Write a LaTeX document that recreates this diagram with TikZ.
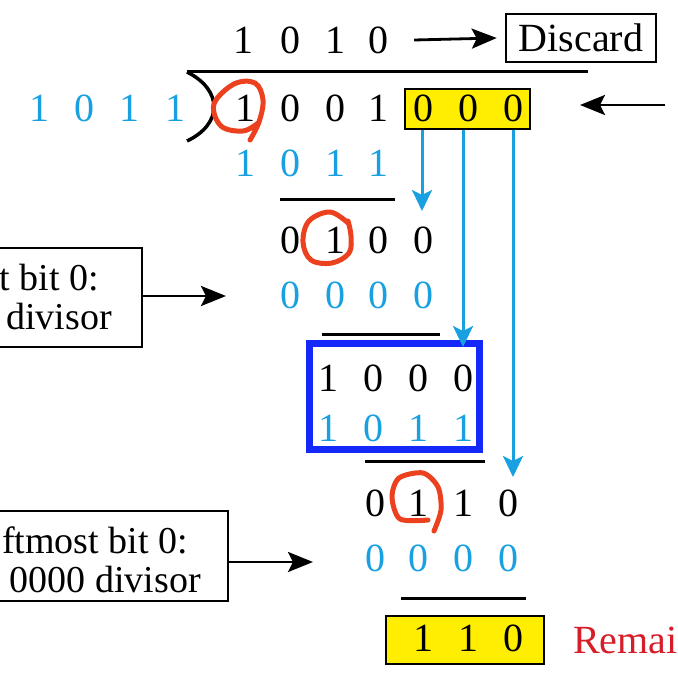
\documentclass[tikz,border=0pt]{standalone}
\usepackage{fontspec}
\setmainfont{Liberation Serif}
\usetikzlibrary{arrows.meta}
\definecolor{cy}{RGB}{25,160,225}
\definecolor{bbox}{RGB}{20,40,250}
\definecolor{ylw}{RGB}{255,238,0}
\definecolor{rc}{RGB}{235,65,30}
\definecolor{rt}{RGB}{215,30,40}
\begin{document}
\begin{tikzpicture}[x=1pt,y=-1pt,
  dg/.style={font=\fontsize{40}{44}\selectfont, inner sep=0pt},
  bl/.style={dg, text=cy},
  rule/.style={line width=3pt},
  barr/.style={line width=2.8pt, -{Stealth[length=25pt,width=20pt,inset=5pt]}},
  carr/.style={cy, line width=3pt, -{Stealth[length=21pt,width=20pt,inset=5pt]}},
  lbox/.style={draw, line width=2.5pt, inner sep=0pt},
  ybox/.style={draw, fill=ylw, line width=2.5pt, inner sep=0pt},
  circ/.style={rc, line width=5pt, line cap=round, line join=round},
  ltxt/.style={font=\fontsize{38}{43}\selectfont, inner sep=0pt, anchor=base east}]
\useasboundingbox (0,0) rectangle (678,676);
\clip (0,0) rectangle (678,676);

% quotient
\foreach \x [count=\i] / \d in {243/1,290/0,335/1,378/0}
  \node[dg] (q\i) at (\x,40) {\d};
\node[lbox, dg, minimum width=150pt, minimum height=48pt] (disc) at (581,38) {Discard};
\draw[barr] ([xshift=26pt]q4.east) -- ([xshift=-8pt]disc.west);

% division bar
\draw[rule] (187,72) -- (588,72);
\draw[line width=3.5pt] (187,72) .. controls (223,90) and (223,124) .. (187,141);

% yellow box under augmented part
\node[ybox, minimum width=125pt, minimum height=40pt] (yb) at (467.5,109) {};

% divisor
\foreach \x [count=\i] / \d in {40/1,84/0,129/1,175/1}
  \node[bl] (dv\i) at (\x,108) {\d};
% dividend
\foreach \x [count=\i] / \d in {245/1,290/0,335/0,378/1,423/0,468/0,513/0}
  \node[dg] (dd\i) at (\x,108) {\d};
\coordinate (rin) at (665,105);
\coordinate (rtip) at (580,105);
\draw[barr] (rin) -- (rtip);

% step 1
\foreach \x [count=\i] / \d in {245/1,290/0,335/1,378/1}
  \node[bl] (s1\i) at (\x,163) {\d};
\draw[rule] (280,200) -- (395,200);
\foreach \x [count=\i] / \d in {290/0,335/1,378/0,423/0}
  \node[dg] (r1\i) at (\x,240) {\d};
\foreach \x [count=\i] / \d in {290/0,335/0,378/0,423/0}
  \node[bl] (s2\i) at (\x,295) {\d};
\draw[rule] (322,335) -- (440,335);

% blue box
\node[draw=bbox, line width=7pt, inner sep=0pt, minimum width=170pt, minimum height=106pt] (bb) at (394.5,396.5) {};
\foreach \x [count=\i] / \d in {328/1,373/0,418/0,463/0}
  \node[dg] (r2\i) at (\x,378) {\d};
\foreach \x [count=\i] / \d in {328/1,373/0,418/1,463/1}
  \node[bl] (s3\i) at (\x,428) {\d};
\draw[rule] (365,462) -- (485,462);

\foreach \x [count=\i] / \d in {375/0,418/1,463/1,508/0}
  \node[dg] (r3\i) at (\x,503) {\d};
\foreach \x [count=\i] / \d in {375/0,418/0,463/0,508/0}
  \node[bl] (s4\i) at (\x,558) {\d};
\draw[rule] (401,598) -- (526,598);

% remainder
\node[ybox, minimum width=158pt, minimum height=48pt] (rb) at (465,640) {};
\foreach \x [count=\i] / \d in {423/1,468/1,513/0}
  \node[dg] (rm\i) at (\x,638) {\d};
\node[font=\fontsize{40}{44}\selectfont, text=rt, inner sep=0pt, anchor=base west] (rem) at (573,653) {Remai};

% blue arrows
\coordinate (t1) at (422,211);
\coordinate (t2) at (463,347);
\coordinate (t3) at (513,477);
\draw[carr] (yb.south -| t1) -- (t1);
\draw[carr] (yb.south -| t2) -- (t2);
\draw[carr] (yb.south -| t3) -- (t3);

% left boxes
\node[lbox, minimum width=162pt, minimum height=99pt] (b1) at (61,297.5) {};
\node[ltxt] (b1a) at (99,291) {t bit 0:};
\node[ltxt] (b1b) at (112,330) {divisor};
\coordinate (c1) at (226,296);
\draw[barr] (b1.east |- c1) -- (c1);

\node[lbox, minimum width=248pt, minimum height=90pt] (b2) at (104,556) {};
\node[ltxt] (b2a) at (188,553) {ftmost bit 0:};
\node[ltxt] (b2b) at (201,592) {0000 divisor};
\coordinate (c2) at (313,562);
\draw[barr] (b2.east |- c2) -- (c2);

% red circles
\draw[circ] plot[smooth, tension=0.6] coordinates {(250,140) (259,122) (263,100) (255,83) (234,84) (214,104) (221,126) (243,131) (258,123)};
\draw[circ] plot[smooth, tension=0.6] coordinates {(348,223) (330,212) (309,221) (303,242) (311,260) (332,263) (349,253) (351,236) (348,221)};
\draw[circ] plot[smooth, tension=0.5] coordinates {(428,520) (400,519) (392,497) (399,478) (423,473) (438,487) (441,510) (434,531)};
\end{tikzpicture}
\end{document}
